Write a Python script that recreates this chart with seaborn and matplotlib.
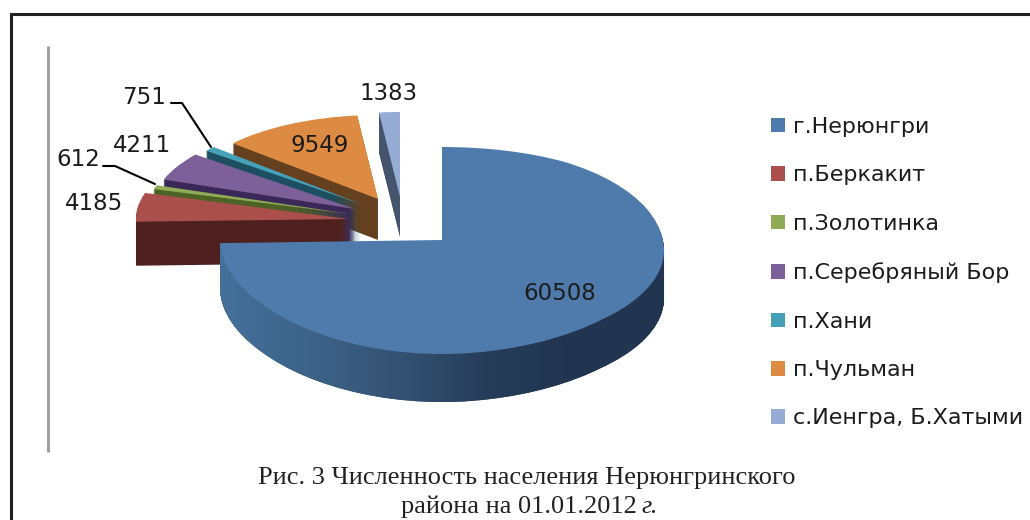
#!/usr/bin/env python3
"""Population of Neryungri district on 01.01.2012 -- tilted, exploded pie."""

import numpy as np
import matplotlib

matplotlib.use("Agg")
import matplotlib.pyplot as plt
import matplotlib.colors as mcolors
from matplotlib.path import Path
from matplotlib.transforms import Transform
import seaborn as sns

# ── data ────────────────────────────────────────────────────────────
places = [
    "г.Нерюнгри",
    "п.Беркакит",
    "п.Золотинка",
    "п.Серебряный Бор",
    "п.Хани",
    "п.Чульман",
    "с.Иенгра, Б.Хатыми",
]
population = [60508, 4185, 612, 4211, 751, 9549, 1383]

# ── colours ─────────────────────────────────────────────────────────
top_colors = ["#4f7bac", "#aa4f4c", "#8fab56", "#7d5f9a", "#46a0b8", "#dd8b43", "#96acd4"]
side_colors = ["#2c4866", "#4f2020", "#4d6325", "#3a2858", "#1d4f60", "#65401e", "#44546c"]
blue_side_ramp = ["#44709b", "#3d6388", "#345273", "#263c59", "#213550", "#213550"]

# ── layout in pixels, one entry per slice ───────────────────────────
apex_x = [442, 349, 351, 355, 361, 378, 400]
apex_y = [240, 219, 214, 209, 204, 199, 197]
radius_x = [222, 213, 206, 203, 197, 194, 197]
radius_y = [103.5, 90, 86, 88, 86, 84, 85]
bow_y = [-10.5, 0, 0, 0, 0, 0, 0]
sag_right = [10, 0, 0, 0, 0, 0, 0]
depth = [48, 44, 44, 44, 44, 41, 40]
paint_order = [6, 5, 4, 3, 2, 1, 0]  # back to front


class TiltTransform(Transform):
    """Lays the unit pie down: unit circle to a foreshortened ellipse."""

    input_dims = 2
    output_dims = 2

    def __init__(self, i, drop=0):
        super().__init__()
        self.i = i
        self.drop = drop

    def transform_non_affine(self, xy):
        x, y = xy[:, 0], xy[:, 1]
        i = self.i
        px = apex_x[i] + radius_x[i] * x
        py = apex_y[i] - radius_y[i] * y - bow_y[i] * y * y + self.drop
        # the right rim of the big slice hangs a little lower
        py = py + sag_right[i] * np.clip(x, 0, None) ** 2 * (1 - y * y)
        return np.column_stack([px, py])

    def transform_path_non_affine(self, path):
        return Path(self.transform_non_affine(path.vertices), path.codes)


sns.set_theme(style="white")
plt.rcParams["font.family"] = ["DejaVu Sans"]
fig = plt.figure(figsize=(10.3, 5.2), dpi=100)
ax = fig.add_axes([0, 0, 1, 1])


def draw_pie(drop, colors, zorder_step):
    wedges, _ = ax.pie(
        population,
        colors=colors,
        startangle=90,
        counterclock=False,
        wedgeprops={"linewidth": 0, "edgecolor": "none"},
    )
    for i, w in enumerate(wedges):
        w.set_transform(TiltTransform(i, drop) + ax.transData)
        w.set_zorder(2 + paint_order[i] * 2 + zorder_step)
        w.set_visible(drop <= depth[i])
    return wedges


# walls first: stacked copies of the pie going down
blue_paths = []
for drop in range(1, max(depth) + 1):
    wedges = draw_pie(drop, side_colors, 0)
    blue_paths.append(TiltTransform(0, drop).transform_path(wedges[0].get_path()))

# the big slice has a shaded wall
ramp = mcolors.LinearSegmentedColormap.from_list("wall", blue_side_ramp)
shade = ax.imshow(
    np.linspace(0, 1, 256)[None, :],
    cmap=ramp,
    extent=(220, 666, 410, 230),
    aspect="auto",
    zorder=2 + paint_order[0] * 2 + 0.5,
)
shade.set_clip_path(Path.make_compound_path(*blue_paths), ax.transData)

top_wedges = draw_pie(0, top_colors, 1)

ax.set_aspect("auto")
ax.set_xlim(0, 1030)
ax.set_ylim(520, 0)
ax.axis("off")

# ── value labels and leaders ────────────────────────────────────────
label_x = [560, 94, 78, 142, 144, 320, 388]
label_y = [294, 204, 160, 145, 98, 145, 94]
for value, x, y in zip(population, label_x, label_y):
    ax.text(x, y, str(value), ha="center", va="center", fontsize=16.5, color="#1c1c1c", zorder=30)

ax.plot([171, 182, 211], [103, 103, 147], color="black", lw=1.5, zorder=25)
ax.plot([103, 115, 155], [166, 166, 184], color="black", lw=1.5, zorder=25)

# ── legend ──────────────────────────────────────────────────────────
ax.legend(
    top_wedges,
    places,
    loc="upper left",
    bbox_to_anchor=(771 / 1030, 1 - 117 / 520),
    borderaxespad=0,
    borderpad=0,
    frameon=False,
    fontsize=16,
    labelcolor="#1c1c1c",
    handlelength=0.63,
    handleheight=0.63,
    handletextpad=0.36,
    labelspacing=1.28,
)

# ── page frame, caption ─────────────────────────────────────────────
ax.plot([10.5, 10.5, 1030], [520, 14, 14], color="#222222", lw=2.2, zorder=1,
        solid_joinstyle="miter", solid_capstyle="butt")
ax.plot([47.5, 47.5], [46, 452], color="#a0a0a0", lw=2.2, zorder=1, solid_capstyle="butt")

serif = "Liberation Serif"
ax.text(527, 478, "Рис. 3 Численность населения Нерюнгринского", ha="center", va="center",
        family=serif, fontsize=19, color="#222222")
ax.text(637, 507, "района на 01.01.2012", ha="right", va="center",
        family=serif, fontsize=19, color="#222222")
ax.text(641, 507, "г.", ha="left", va="center",
        family=serif, style="italic", fontsize=19, color="#222222")

fig.savefig("out.png", dpi=100, facecolor="white")
plt.close(fig)
